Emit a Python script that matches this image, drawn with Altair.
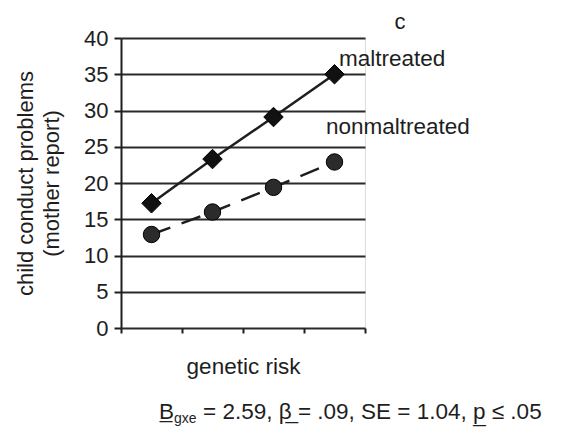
import altair as alt
import pandas as pd

# ---- data ----
risk_levels = [1, 2, 3, 4]
maltreated = [17.2, 23.3, 29.1, 35.0]
nonmaltreated = [12.9, 16.0, 19.4, 22.9]
y_ticks = [0, 5, 10, 15, 20, 25, 30, 35, 40]
x_tick_edges = [0.5, 1.5, 2.5, 3.5, 4.5]

df = pd.DataFrame({
    "risk": risk_levels * 2,
    "value": maltreated + nonmaltreated,
    "group": ["maltreated"] * 4 + ["nonmaltreated"] * 4,
})

FONT = "Liberation Sans"
INK = "#1e1e1e"

x_enc = alt.X("risk:Q", scale=alt.Scale(domain=[0.5, 4.5], nice=False, zero=False),
              axis=alt.Axis(values=x_tick_edges, labels=False, grid=False, domain=False,
                            tickSize=5, tickWidth=2, tickColor=INK,
                            title="genetic risk", titleFont=FONT, titleFontSize=22.5,
                            titleFontWeight="normal", titleColor=INK, titlePadding=21))
y_enc = alt.Y("value:Q", scale=alt.Scale(domain=[0, 40], nice=False),
              axis=alt.Axis(values=y_ticks, grid=True, gridColor="#2a2a2a", gridWidth=2,
                            gridOpacity=1, domain=True, domainColor=INK, domainWidth=2,
                            tickSize=7, tickWidth=2, tickColor=INK,
                            labelFont=FONT, labelFontSize=22, labelColor=INK, labelPadding=6,
                            title=["child conduct problems", "(mother report)"],
                            titleFont=FONT, titleFontSize=22, titleFontWeight="normal",
                            titleColor=INK, titlePadding=20, titleLineHeight=26))

base = alt.Chart(df)

mal = base.transform_filter(alt.datum.group == "maltreated")
non = base.transform_filter(alt.datum.group == "nonmaltreated")

mal_line = mal.mark_line(color=INK, strokeWidth=2.5).encode(x=x_enc, y=y_enc)
non_line = non.mark_line(color=INK, strokeWidth=2.5, strokeDash=[20, 12]).encode(x=x_enc, y=y_enc)
mal_pts = mal.mark_point(shape="diamond", filled=True, size=380, color="#111",
                         stroke="#000", strokeWidth=1, opacity=1).encode(x=x_enc, y=y_enc)
non_pts = non.mark_point(shape="circle", filled=True, size=270, color="#2b2b2b",
                         stroke="#000", strokeWidth=1, opacity=1).encode(x=x_enc, y=y_enc)

def label(txt, x, y, size=22.5, align="left"):
    return alt.Chart(pd.DataFrame({"t": [txt]})).mark_text(
        font=FONT, fontSize=size, color=INK, align=align, baseline="middle"
    ).encode(text="t:N", x=alt.value(x), y=alt.value(y))

lab_mal = label("maltreated", 218, 21)
lab_non = label("nonmaltreated", 205, 89)
lab_c = label("c", 279, -16, size=22, align="center")

# footnote pieces
foot_B = label("B\u0332", 38, 374)
foot_sub = label("gxe", 53, 381, size=14)
foot_rest = label("= 2.59, \u03b2\u0332 = .09, SE = 1.04, p\u0332 \u2264 .05", 82, 374)

chart = alt.layer(
    mal_line, non_line, mal_pts, non_pts, lab_mal, lab_non, lab_c,
    foot_B, foot_sub, foot_rest
).properties(
    width=244, height=290,
    autosize=alt.AutoSizeParams(type="none"),
    padding={"left": 113, "top": 30, "right": 180, "bottom": 105},
).configure_view(stroke=None).configure(background="white")

chart.save("out.html", embed_options={"renderer": "svg", "actions": False})
